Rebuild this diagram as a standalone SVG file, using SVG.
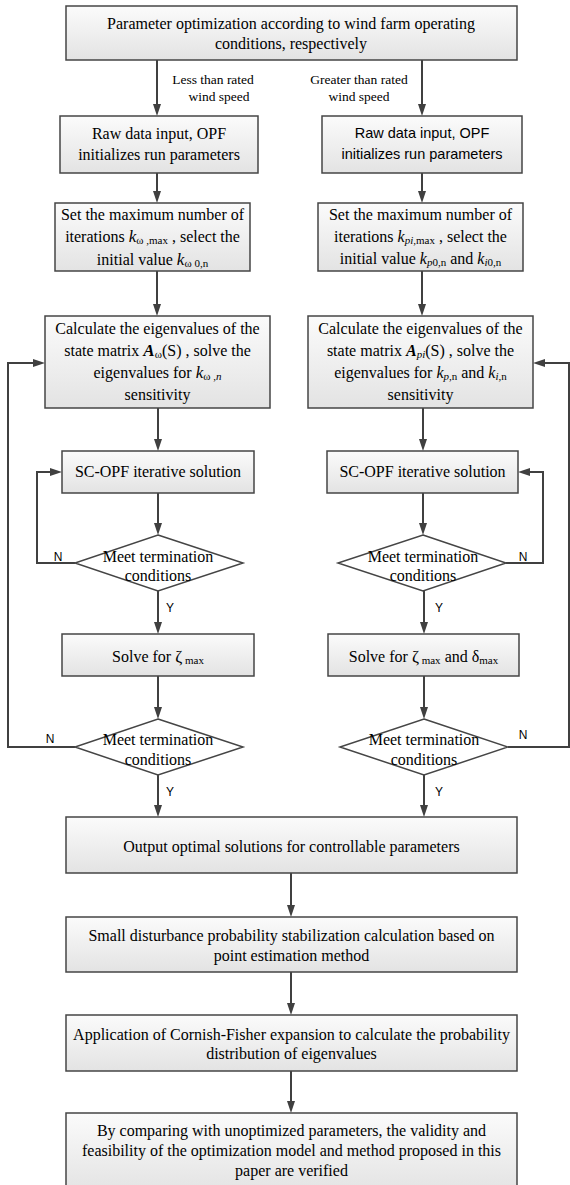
<svg xmlns="http://www.w3.org/2000/svg" width="570" height="1185" viewBox="0 0 570 1185">
<defs>
<linearGradient id="g" x1="0" y1="0" x2="0" y2="1">
<stop offset="0" stop-color="#fbfbfb"/>
<stop offset="1" stop-color="#e3e3e3"/>
</linearGradient>
<marker id="ah" viewBox="0 0 12 8" refX="0" refY="4" markerWidth="12" markerHeight="8" markerUnits="userSpaceOnUse" orient="auto">
<path d="M0,0 L12,4 L0,8 z" fill="#404040"/>
</marker>
</defs>
<style>
.box{fill:url(#g);stroke:#454545;stroke-width:1.5}
.dia{fill:#ffffff;stroke:#454545;stroke-width:1.5}
.t{font-family:"Liberation Serif","Times New Roman",serif;font-size:16px;fill:#000;text-anchor:middle}
.s{font-family:"Liberation Sans",Arial,sans-serif;font-size:14.5px;fill:#000;text-anchor:middle}
.lb{font-family:"Liberation Serif","Times New Roman",serif;font-size:13.5px;fill:#000;text-anchor:middle}
.yn{font-family:"Liberation Sans",Arial,sans-serif;font-size:12px;fill:#000;text-anchor:middle}
.c{fill:none;stroke:#404040;stroke-width:2}
.a{fill:none;stroke:#404040;stroke-width:2;marker-end:url(#ah)}
.i{font-style:italic}
.sub{font-size:11px}
</style>
<g id="connectors">
<line class="a" x1="157" y1="60" x2="157" y2="104"/>
<line class="a" x1="422" y1="60" x2="422" y2="104"/>
<line class="a" x1="157" y1="173" x2="157" y2="191"/>
<line class="a" x1="422" y1="173" x2="422" y2="191"/>
<line class="a" x1="157" y1="271" x2="157" y2="304"/>
<line class="a" x1="422" y1="271" x2="422" y2="304"/>
<line class="a" x1="158" y1="408" x2="158" y2="439"/>
<line class="a" x1="423" y1="408" x2="423" y2="439"/>
<line class="a" x1="158" y1="493" x2="158" y2="523"/>
<line class="a" x1="423" y1="493" x2="423" y2="523"/>
<line class="a" x1="158" y1="591" x2="158" y2="622"/>
<line class="a" x1="424" y1="591" x2="424" y2="622"/>
<line class="a" x1="158" y1="676" x2="158" y2="707"/>
<line class="a" x1="424" y1="676" x2="424" y2="707"/>
<line class="a" x1="158" y1="775" x2="158" y2="805"/>
<line class="a" x1="424" y1="775" x2="424" y2="805"/>
<line class="a" x1="291" y1="873" x2="291" y2="905"/>
<line class="a" x1="291" y1="972" x2="291" y2="1003"/>
<line class="a" x1="291" y1="1071" x2="291" y2="1101"/>
<polyline class="a" points="75,563 37,563 37,472 50,472"/>
<polyline class="a" points="506,563 543,563 543,472 530,472"/>
<polyline class="a" points="75,747 8,747 8,363 33,363"/>
<polyline class="a" points="508,747 569,747 569,363 545,363"/>
<text class="lb" x="213" y="84">Less than rated</text>
<text class="lb" x="219" y="101">wind speed</text>
<text class="lb" x="359" y="84">Greater than rated</text>
<text class="lb" x="359" y="101">wind speed</text>
<text class="yn" x="58" y="561">N</text>
<text class="yn" x="170" y="612">Y</text>
<text class="yn" x="523" y="561">N</text>
<text class="yn" x="439" y="612">Y</text>
<text class="yn" x="50" y="743">N</text>
<text class="yn" x="170" y="796">Y</text>
<text class="yn" x="523" y="739">N</text>
<text class="yn" x="439" y="796">Y</text>
</g>
<g id="top">
<rect class="box" x="66" y="6" width="451" height="54"/>
<text class="t" x="291" y="29">Parameter optimization according to wind farm operating</text>
<text class="t" x="291" y="49">conditions, respectively</text>
</g>
<g id="rawL">
<rect class="box" x="60" y="116" width="198" height="57"/>
<text class="t" x="159" y="139">Raw data input, OPF</text>
<text class="t" x="159" y="160">initializes run parameters</text>
</g>
<g id="rawR">
<rect class="box" x="322" y="116" width="200" height="57"/>
<text class="s" x="422" y="138">Raw data input, OPF</text>
<text class="s" x="422" y="159">initializes run parameters</text>
</g>
<g id="setL">
<rect class="box" x="55" y="203" width="195" height="68"/>
<text class="t" x="152.5" y="220">Set the maximum number of</text>
<text class="t" x="152.5" y="242">iterations <tspan class="i" font-size="17">k</tspan><tspan class="sub" dy="2">ω ,max</tspan><tspan dy="-2"> , select the</tspan></text>
<text class="t" x="152.5" y="265">initial value <tspan class="i" font-size="17">k</tspan><tspan class="sub" dy="2">ω 0,n</tspan></text>
</g>
<g id="setR">
<rect class="box" x="318" y="203" width="205" height="68"/>
<text class="t" x="420.5" y="220">Set the maximum number of</text>
<text class="t" x="420.5" y="242">iterations <tspan class="i">k</tspan><tspan class="sub i" dy="2">pi</tspan><tspan class="sub">,max</tspan><tspan dy="-2"> , select the</tspan></text>
<text class="t" x="420.5" y="264">initial value <tspan class="i">k</tspan><tspan class="sub i" dy="2">p</tspan><tspan class="sub">0,n</tspan><tspan dy="-2"> and  </tspan><tspan class="i">k</tspan><tspan class="sub i" dy="2">i</tspan><tspan class="sub">0,n</tspan></text>
</g>
<g id="calcL">
<rect class="box" x="45" y="316" width="225" height="92"/>
<text class="t" x="157.5" y="334">Calculate the eigenvalues of the</text>
<text class="t" x="157.5" y="356">state matrix <tspan class="i" font-weight="bold" font-size="17">A</tspan><tspan class="sub" dy="2">ω</tspan><tspan dy="-2">(S) , solve the</tspan></text>
<text class="t" x="157.5" y="378">eigenvalues for <tspan class="i" font-size="17">k</tspan><tspan class="sub" dy="2">ω ,</tspan><tspan class="sub i">n</tspan></text>
<text class="t" x="157.5" y="400">sensitivity</text>
</g>
<g id="calcR">
<rect class="box" x="308" y="316" width="225" height="92"/>
<text class="t" x="420.5" y="334">Calculate the eigenvalues of the</text>
<text class="t" x="420.5" y="356">state matrix  <tspan class="i" font-weight="bold">A</tspan><tspan class="sub i" dy="2">pi</tspan><tspan dy="-2">(S) , solve the</tspan></text>
<text class="t" x="420.5" y="378">eigenvalues for <tspan class="i">k</tspan><tspan class="sub i" dy="2">p</tspan><tspan class="sub">,n</tspan><tspan dy="-2"> and  </tspan><tspan class="i">k</tspan><tspan class="sub i" dy="2">i</tspan><tspan class="sub">,n</tspan></text>
<text class="t" x="420.5" y="400">sensitivity</text>
</g>
<g id="scL">
<rect class="box" x="62" y="451" width="192" height="42"/>
<text class="t" x="158" y="477">SC-OPF iterative solution</text>
</g>
<g id="scR">
<rect class="box" x="327" y="451" width="191" height="42"/>
<text class="t" x="422.5" y="477">SC-OPF iterative solution</text>
</g>
<g id="meet1L">
<polygon class="dia" points="158,535 243,563 158,591 75,563"/>
<text class="t" x="158" y="562">Meet termination</text>
<text class="t" x="158" y="581">conditions</text>
</g>
<g id="meet1R">
<polygon class="dia" points="423,535 506,563 423,591 338,563"/>
<text class="t" x="423" y="562">Meet termination</text>
<text class="t" x="423" y="581">conditions</text>
</g>
<g id="solveL">
<rect class="box" x="62" y="634" width="192" height="42"/>
<text class="t" x="158" y="662">Solve for <tspan font-size="17">ζ</tspan><tspan class="sub" dy="2"> max</tspan></text>
</g>
<g id="solveR">
<rect class="box" x="328" y="634" width="191" height="42"/>
<text class="t" x="423.5" y="662">Solve for <tspan font-size="17">ζ</tspan><tspan class="sub" dy="2"> max</tspan><tspan dy="-2"> and δ</tspan><tspan class="sub" dy="2">max</tspan></text>
</g>
<g id="meet2L">
<polygon class="dia" points="158,719 243,747 158,775 75,747"/>
<text class="t" x="158" y="745">Meet termination</text>
<text class="t" x="158" y="765">conditions</text>
</g>
<g id="meet2R">
<polygon class="dia" points="424,719 508,747 424,775 340,747"/>
<text class="t" x="424" y="745">Meet termination</text>
<text class="t" x="424" y="765">conditions</text>
</g>
<g id="output">
<rect class="box" x="66" y="817" width="451" height="56"/>
<text class="t" x="291.5" y="852">Output optimal solutions for controllable parameters</text>
</g>
<g id="small">
<rect class="box" x="66" y="917" width="451" height="55"/>
<text class="t" x="291.5" y="941">Small disturbance probability stabilization calculation based on</text>
<text class="t" x="291.5" y="961">point estimation method</text>
</g>
<g id="cornish">
<rect class="box" x="66" y="1015" width="451" height="56"/>
<text class="t" x="291.5" y="1040">Application of Cornish-Fisher expansion to calculate the probability</text>
<text class="t" x="291.5" y="1059">distribution of eigenvalues</text>
</g>
<g id="final">
<rect class="box" x="66" y="1113" width="451" height="80"/>
<text class="t" x="291.5" y="1136">By comparing with unoptimized parameters, the validity and</text>
<text class="t" x="291.5" y="1156">feasibility of the optimization model and method proposed in this</text>
<text class="t" x="291.5" y="1176">paper are verified</text>
</g>
</svg>
